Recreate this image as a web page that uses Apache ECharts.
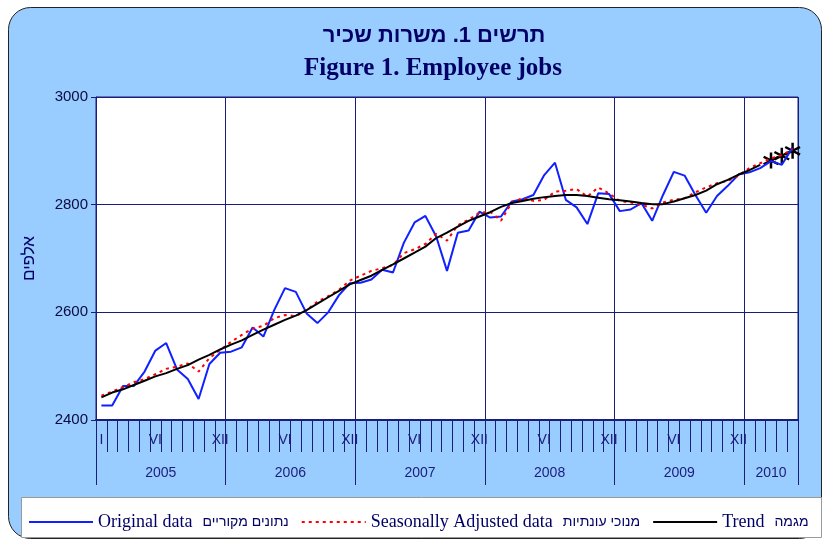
<!DOCTYPE html>
<html>
<head>
<meta charset="utf-8">
<script src="https://cdn.jsdelivr.net/npm/echarts@6/dist/echarts.min.js"></script>
<style>
html, body { margin: 0; padding: 0; background: #fff; }
#main { width: 825px; height: 540px; }
</style>
</head>
<body>
<div id="main"></div>
<script>
// months Jan 2005 - May 2010
var months = [
  '2005-01','2005-02','2005-03','2005-04','2005-05','2005-06','2005-07','2005-08','2005-09','2005-10','2005-11','2005-12',
  '2006-01','2006-02','2006-03','2006-04','2006-05','2006-06','2006-07','2006-08','2006-09','2006-10','2006-11','2006-12',
  '2007-01','2007-02','2007-03','2007-04','2007-05','2007-06','2007-07','2007-08','2007-09','2007-10','2007-11','2007-12',
  '2008-01','2008-02','2008-03','2008-04','2008-05','2008-06','2008-07','2008-08','2008-09','2008-10','2008-11','2008-12',
  '2009-01','2009-02','2009-03','2009-04','2009-05','2009-06','2009-07','2009-08','2009-09','2009-10','2009-11','2009-12',
  '2010-01','2010-02','2010-03','2010-04','2010-05'
];
var romanMonths = { '01': 'I', '06': 'VI', '12': 'XII' };
var years = ['2005', '2006', '2007', '2008', '2009', '2010'];
var yearStart = [0, 12, 24, 36, 48, 60];
var yTicks = [2400, 2600, 2800, 3000];

var original = [
  2427, 2427, 2463, 2463, 2490, 2529, 2543, 2494, 2476, 2439, 2504, 2525,
  2527, 2535, 2572, 2555, 2604, 2645, 2638, 2598, 2580, 2600, 2632, 2654,
  2655, 2661, 2679, 2674, 2729, 2767, 2779, 2741, 2677, 2748, 2752, 2787,
  2776, 2778, 2806, 2810, 2818, 2855, 2878, 2809, 2795, 2764, 2821, 2820,
  2788, 2791, 2803, 2770, 2818, 2861, 2854, 2818, 2785, 2816, 2835, 2856,
  2860, 2868, 2881, 2874, 2906
];
var seasAdj = [
  2445, 2453, 2461, 2470, 2476, 2485, 2495, 2499, 2505, 2490, 2515, 2530,
  2545, 2558, 2570, 2575, 2589, 2595, 2593, 2604, 2620, 2630, 2642, 2659,
  2668, 2677, 2682, 2688, 2710, 2717, 2727, 2746, 2733, 2762, 2772, 2785,
  2787, 2770, 2804, 2812, 2807, 2809, 2824, 2826, 2829, 2815, 2832, 2821,
  2807, 2804, 2800, 2793, 2804, 2809, 2812, 2823, 2832, 2840, 2844, 2854,
  2868, 2877, 2886, 2892, 2903
];
var trend = [
  2442, 2451, 2457, 2465, 2473, 2481, 2487, 2495, 2502, 2512, 2521, 2531,
  2540, 2548, 2558, 2568, 2577, 2586, 2594, 2604, 2616, 2628, 2640, 2652,
  2660, 2668, 2679, 2689, 2700, 2711, 2722, 2738, 2748, 2759, 2770, 2778,
  2786, 2796, 2803, 2807, 2811, 2814, 2816, 2818, 2818, 2816, 2813, 2810,
  2808, 2806, 2803, 2801, 2801, 2806, 2812, 2818, 2826, 2838, 2846, 2856,
  2864, 2874, '-', '-', '-'
];
// last trend points drawn as asterisks
var trendEstMonths = ['2010-03', '2010-04', '2010-05'];
var trendEst = [2882, 2891, 2900];

var namesEn = ['Original data', 'Seasonally Adjusted data', 'Trend'];
var namesHe = ['נתונים מקוריים', 'מנוכי עונתיות', 'מגמה'];

var navy = '#1c1c7a';
var yearEdges = yearStart.concat([months.length]);
var yearMid = [];
for (var i = 0; i < yearStart.length; i++) {
  yearMid.push((yearEdges[i] + yearEdges[i + 1]) / 2);
}
var asterisk = 'path://M8.5,0 L11.5,0 L11.5,20 L8.5,20 Z M0.4,6.6 L1.9,4 L19.6,13.4 L18.1,16 Z M0.4,13.4 L18.1,4 L19.6,6.6 L1.9,16 Z';

var myChart = echarts.init(document.getElementById('main'));
var option = {
  animation: false,
  graphic: [
    { type: 'rect', z: -100, shape: { x: 8.5, y: 7.5, width: 813, height: 531, r: 22 },
      style: { fill: '#99ccff', stroke: '#222', lineWidth: 1 } },
    { type: 'rect', z: -90, shape: { x: 21.5, y: 497.5, width: 800, height: 40 },
      style: { fill: '#fff', stroke: '#9a9a9a', lineWidth: 1 } }
  ],
  title: [
    {
      text: 'תרשים 1. משרות שכיר',
      left: 434, top: 25, textAlign: 'center', padding: 0,
      textStyle: { fontFamily: 'Liberation Sans', fontSize: 22, fontWeight: 'bold', color: '#000066' }
    },
    {
      text: 'Figure 1. Employee jobs',
      left: 433, top: 56, textAlign: 'center', padding: 0,
      textStyle: { fontFamily: 'Liberation Serif', fontSize: 25, fontWeight: 'bold', color: '#000066' }
    }
  ],
  legend: {
    data: namesEn,
    left: 28, top: 508, width: 797, padding: [5, 0, 5, 0],
    itemWidth: 64, itemHeight: 14, itemGap: 12,
    itemStyle: { opacity: 0 },
    formatter: function (name) {
      return '{en|' + name + '}{he|' + namesHe[namesEn.indexOf(name)] + '}';
    },
    textStyle: {
      color: '#000066',
      rich: {
        en: { fontFamily: 'Liberation Serif', fontSize: 18, color: '#000066', padding: [0, 10, 0, 0] },
        he: { fontFamily: 'Liberation Sans', fontSize: 14, color: '#000066' }
      }
    }
  },
  grid: {
    left: 96, right: 27, top: 97, bottom: 120,
    show: true, backgroundColor: '#fff', borderColor: navy, borderWidth: 1
  },
  xAxis: [
    {
      type: 'category', data: months, boundaryGap: true, position: 'bottom',
      axisLine: { show: true, lineStyle: { color: navy, width: 2 } },
      axisTick: { show: true, interval: 0, length: 32, lineStyle: { color: navy, width: 1 } },
      axisLabel: {
        interval: 0, margin: 13, fontFamily: 'Liberation Sans', fontSize: 14, color: navy,
        formatter: function (val, idx) {
          var m = val.slice(5);
          if (m === '01') return idx === 0 ? 'I' : '';
          return romanMonths[m] || '';
        }
      },
      splitLine: {
        show: true,
        interval: function (idx) { return yearStart.indexOf(idx) >= 0; },
        lineStyle: { color: navy, width: 1 }
      }
    },
    {
      type: 'value', position: 'bottom', min: 0, max: months.length,
      axisLine: { show: false },
      axisTick: { show: true, customValues: yearEdges, length: 65, lineStyle: { color: navy, width: 1 } },
      axisLabel: {
        customValues: yearMid, margin: 46, fontFamily: 'Liberation Sans', fontSize: 14, color: navy,
        formatter: function (v) { return years[yearMid.indexOf(v)]; }
      },
      splitLine: { show: false }
    }
  ],
  yAxis: {
    type: 'value', min: yTicks[0], max: yTicks[yTicks.length - 1], interval: 200,
    name: 'אלפים', nameLocation: 'middle', nameRotate: 90, nameGap: 58,
    nameTextStyle: { fontFamily: 'Liberation Sans', fontSize: 17, color: '#000066' },
    axisLine: { show: true, lineStyle: { color: navy, width: 1 } },
    axisTick: { show: true, length: 5, lineStyle: { color: navy } },
    axisLabel: {
      margin: 8, fontFamily: 'Liberation Sans', fontSize: 15, color: '#0a0a40',
      formatter: function (v) { return String(v); }
    },
    splitLine: { show: true, lineStyle: { color: navy, width: 1 } }
  },
  series: [
    {
      name: namesEn[0], type: 'line', data: original, symbol: 'none',
      lineStyle: { color: '#1020ff', width: 2 }, itemStyle: { color: '#1020ff' }
    },
    {
      name: namesEn[1], type: 'line', data: seasAdj, symbol: 'none',
      lineStyle: { color: '#ff0000', width: 2, type: [3, 4] }, itemStyle: { color: '#ff0000' }
    },
    {
      name: namesEn[2], type: 'line', data: trend, symbol: 'none',
      lineStyle: { color: '#000', width: 2 }, itemStyle: { color: '#000' }
    },
    {
      name: 'trend estimate', type: 'scatter', symbol: asterisk, symbolSize: 16,
      itemStyle: { color: '#000', opacity: 1 },
      data: trendEstMonths.map(function (m, k) { return [m, trendEst[k]]; })
    }
  ]
};
myChart.setOption(option);
</script>
</body>
</html>
